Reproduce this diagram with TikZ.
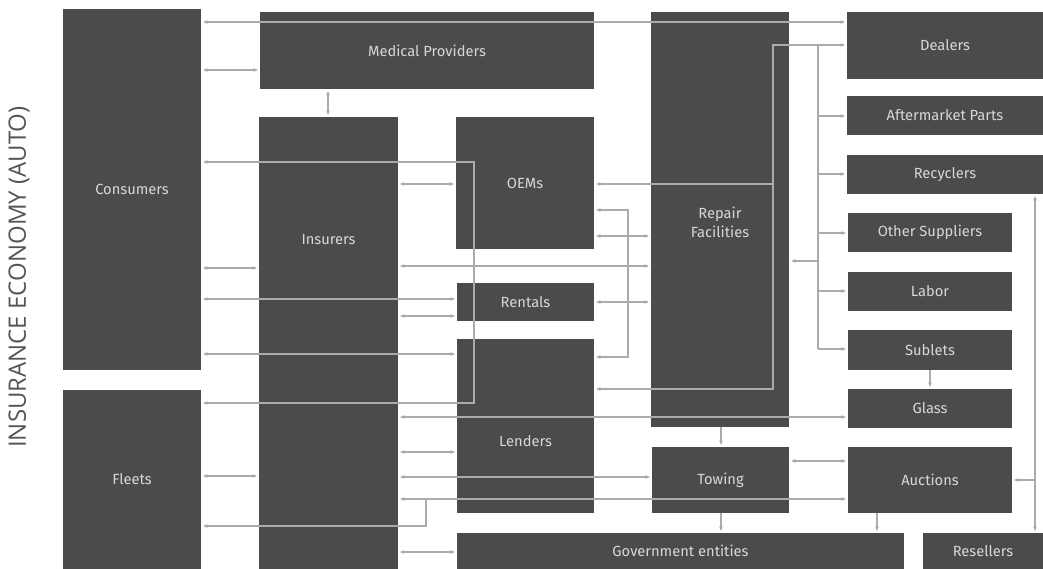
\documentclass[tikz,border=0pt]{standalone}
\usepackage{fontspec}
\setmainfont{Fira Sans}
\newfontfamily\titlefont{Open Sans}
\usetikzlibrary{arrows.meta}
\definecolor{boxc}{HTML}{4B4A4D}
\definecolor{txtc}{HTML}{D8D8D8}
\definecolor{linec}{HTML}{ABABAB}
\definecolor{titlec}{HTML}{555555}
\tikzset{
  box/.style={fill=boxc, draw=none, inner sep=0pt, outer sep=0pt, anchor=north west},
  txt/.style={text=txtc, font=\fontsize{14.7}{19}\selectfont, align=center, inner sep=0pt},
  ln/.style={draw=linec, line width=1.1pt},
  tip/.tip={Stealth[length=4.5pt,width=3.6pt]},
  arr/.style={ln, tip-tip, shorten <=2pt, shorten >=2pt},
  arrto/.style={ln, -tip, shorten >=2pt},
  arrfrom/.style={ln, tip-, shorten <=2pt},
}
\begin{document}
\begin{tikzpicture}[x=1pt, y=-1pt]
\useasboundingbox (0,0) rectangle (1043,569);
% boxes
\node[box, minimum width=138pt, minimum height=361pt] (cons) at (63,9) {};
\node[box, minimum width=138pt, minimum height=179pt] (fleets) at (63,390) {};
\node[box, minimum width=334pt, minimum height=77pt] (med) at (260,12) {};
\node[box, minimum width=139pt, minimum height=452pt] (ins) at (259,117) {};
\node[box, minimum width=138pt, minimum height=132pt] (oem) at (456,117) {};
\node[box, minimum width=137pt, minimum height=38pt] (rent) at (457,283) {};
\node[box, minimum width=137pt, minimum height=174pt] (lend) at (457,339) {};
\node[box, minimum width=138pt, minimum height=415pt] (rep) at (651,12) {};
\node[box, minimum width=196pt, minimum height=67pt] (deal) at (847,12) {};
\node[box, minimum width=196pt, minimum height=39pt] (after) at (847,96) {};
\node[box, minimum width=196pt, minimum height=39pt] (recyc) at (847,155) {};
\node[box, minimum width=164pt, minimum height=39pt] (other) at (848,213) {};
\node[box, minimum width=164pt, minimum height=39pt] (labor) at (848,272) {};
\node[box, minimum width=164pt, minimum height=40pt] (sublet) at (848,330) {};
\node[box, minimum width=164pt, minimum height=39pt] (glass) at (848,389) {};
\node[box, minimum width=137pt, minimum height=66pt] (tow) at (652,447) {};
\node[box, minimum width=164pt, minimum height=66pt] (auct) at (848,447) {};
\node[box, minimum width=447pt, minimum height=36pt] (gov) at (457,533) {};
\node[box, minimum width=120pt, minimum height=36pt] (resell) at (923,533) {};
% labels
\node[txt] (consT) at (cons.center) {Consumers};
\node[txt] (fleetsT) at (fleets.center) {Fleets};
\node[txt] (medT) at (med.center) {Medical Providers};
\node[txt] (insT) at (ins.north |- 0,240) {Insurers};
\node[txt] (oemT) at (oem.center) {OEMs};
\node[txt] (rentT) at (rent.center) {Rentals};
\node[txt] (lendT) at (lend.north |- 0,441) {Lenders};
\node[txt] (repT) at (rep.north |- 0,222) {Repair\\Facilities};
\node[txt] (dealT) at (deal.center) {Dealers};
\node[txt] (afterT) at (after.center) {Aftermarket Parts};
\node[txt] (recycT) at (recyc.center) {Recyclers};
\node[txt] (otherT) at (other.center) {Other Suppliers};
\node[txt] (laborT) at (labor.center) {Labor};
\node[txt] (subletT) at (sublet.center) {Sublets};
\node[txt] (glassT) at (glass.center) {Glass};
\node[txt] (towT) at (tow.center) {Towing};
\node[txt] (auctT) at (auct.center) {Auctions};
\node[txt] (govT) at (gov.center) {Government entities};
\node[txt] (resellT) at (resell.center) {Resellers};
\node[rotate=90, text=titlec, font=\titlefont\fontsize{24}{26}\selectfont, inner sep=0pt] (title) at (19,277) {INSURANCE ECONOMY (AUTO)};
% bend coordinates
\coordinate (cfA) at (474,162);
\coordinate (cfB) at (474,403);
\coordinate (dlA) at (773,45);
\coordinate (dlB) at (773,389);
\coordinate (dlC) at (773,184);
\coordinate (olA) at (628,210);
\coordinate (olB) at (628,357);
\coordinate (trA) at (818,45);
\coordinate (trB) at (818,349);
\coordinate (trC) at (818,261);
\coordinate (faA) at (426,499);
\coordinate (faB) at (426,526);
\coordinate (rsA) at (1035,480);
% connectors
\draw[arr] (cons.east |- 0,22) -- (deal.west |- 0,22);
\draw[arr] (cons.east |- 0,70) -- (med.west |- 0,70);
\draw[arr] (med.south -| 328,0) -- (ins.north -| 328,0);
\draw[arr] (cons.east |- cfA) -- (cfA) -- (cfB) -- (fleets.east |- cfB);
\draw[arr] (ins.east |- 0,184) -- (oem.west |- 0,184);
\draw[arr] (deal.west |- dlA) -- (dlA) -- (dlB) -- (lend.east |- dlB);
\draw[arrto] (dlC) -- (oem.east |- dlC);
\draw[arr] (oem.east |- olA) -- (olA) -- (olB) -- (lend.east |- olB);
\draw[arr] (oem.east |- 0,236) -- (rep.west |- 0,236);
\draw[arr] (cons.east |- 0,268) -- (ins.west |- 0,268);
\draw[arr] (ins.east |- 0,266) -- (rep.west |- 0,266);
\draw[arr] (cons.east |- 0,299) -- (rent.west |- 0,299);
\draw[arr] (rent.east |- 0,302) -- (rep.west |- 0,302);
\draw[arr] (ins.east |- 0,316) -- (rent.west |- 0,316);
\draw[arr] (cons.east |- 0,354) -- (lend.west |- 0,354);
% repair tree
\draw[arrfrom] (rep.east |- trC) -- (trC);
\draw[ln] (trA) -- (trB);
\draw[arrto] (trA |- 0,116) -- (after.west |- 0,116);
\draw[arrto] (trA |- 0,174) -- (recyc.west |- 0,174);
\draw[arrto] (trA |- 0,233) -- (other.west |- 0,233);
\draw[arrto] (trA |- 0,291) -- (labor.west |- 0,291);
\draw[arrto] (trB) -- (sublet.west |- trB);
\draw[arrto] (sublet.south -| 930,0) -- (glass.north -| 930,0);
% lower connectors
\draw[arr] (ins.east |- 0,417) -- (glass.west |- 0,417);
\draw[arr] (ins.east |- 0,452) -- (lend.west |- 0,452);
\draw[arr] (fleets.east |- 0,476) -- (ins.west |- 0,476);
\draw[arr] (ins.east |- 0,477) -- (tow.west |- 0,477);
\draw[arr] (ins.east |- faA) -- (auct.west |- faA);
\draw[arrto] (faA) -- (faB) -- (fleets.east |- faB);
\draw[arr] (ins.east |- 0,552) -- (gov.west |- 0,552);
\draw[arrto] (rep.south -| 721,0) -- (tow.north -| 721,0);
\draw[arr] (tow.east |- 0,461) -- (auct.west |- 0,461);
\draw[arrto] (tow.south -| 721,0) -- (gov.north -| 721,0);
\draw[arrto] (auct.south -| 877,0) -- (gov.north -| 877,0);
\draw[arr] (recyc.south -| rsA) -- (resell.north -| rsA);
\draw[arrto] (rsA) -- (auct.east |- rsA);
\end{tikzpicture}
\end{document}
